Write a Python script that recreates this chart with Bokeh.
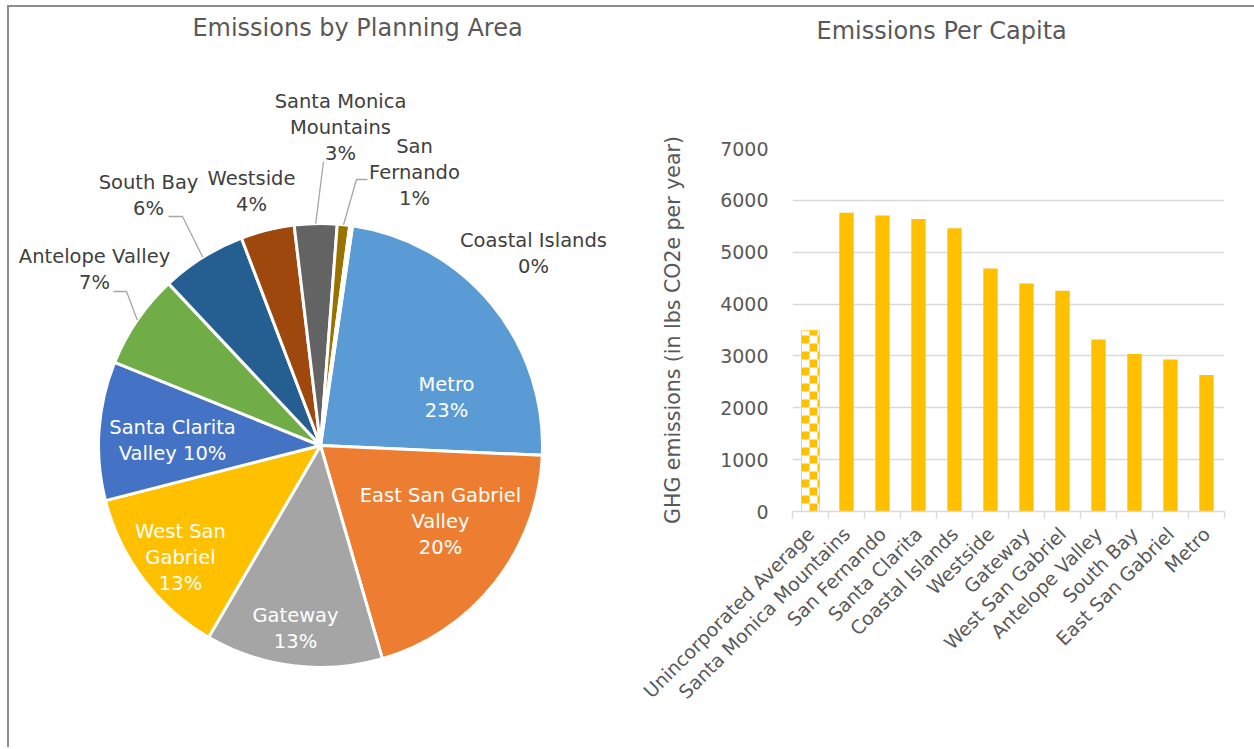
import math
from bokeh.plotting import figure
from bokeh.layouts import row
from bokeh.models import ColumnDataSource, Range1d, FixedTicker, Title
from bokeh.embed import file_html
from bokeh.resources import INLINE
from bokeh.core.properties import value

# ---------------- data ----------------
PIE_TITLE = "Emissions by Planning Area"
PIE_AREAS = ["Metro", "East San Gabriel Valley", "Gateway", "West San Gabriel",
             "Santa Clarita Valley", "Antelope Valley", "South Bay", "Westside",
             "Santa Monica Mountains", "San Fernando", "Coastal Islands"]
PIE_SHARES = [23.4, 19.8, 12.9, 12.6, 10.1, 6.9, 6.2, 3.9, 3.1, 0.9, 0.2]
PIE_LABEL_NAMES = ["Metro", "East San Gabriel\nValley", "Gateway", "West San\nGabriel",
                   "Santa Clarita\nValley", "Antelope Valley", "South Bay", "Westside",
                   "Santa Monica\nMountains", "San\nFernando", "Coastal Islands"]

BAR_TITLE = "Emissions Per Capita"
BAR_AREAS = ["Unincorporated Average", "Santa Monica Mountains", "San Fernando",
             "Santa Clarita", "Coastal Islands", "Westside", "Gateway",
             "West San Gabriel", "Antelope Valley", "South Bay", "East San Gabriel", "Metro"]
BAR_VALUES = [3490, 5760, 5710, 5640, 5460, 4685, 4395, 4255, 3315, 3035, 2930, 2630]
Y_TICKS = [0, 1000, 2000, 3000, 4000, 5000, 6000, 7000]
Y_LABEL = "GHG emissions (in lbs CO2e per year)"

# ---------------- style / layout ----------------
FONT = "DejaVu Sans"
PIE_COLORS = ["#5B9BD5", "#ED7D31", "#A5A5A5", "#FFC000", "#4472C4", "#70AD47",
              "#255E91", "#9E480E", "#636363", "#997300", "#264478"]
INSIDE = [True, True, True, True, True, False, False, False, False, False, False]
# label centre offsets from pie centre (pixels, screen-down positive)
LABEL_OFFSETS = [(126, -48), (120, 76), (-25, 183), (-140, 112), (-148, -5),
                 (-226, -176), (-172, -250), (-69, -254), (20, -318), (94, -273), (213, -192)]
# leader lines: (elbow offset, end offset) relative to label centre; None = no leader
LEADERS = [None, None, None, None, None,
           ((32, 22), (19, 22)), ((34, 21), (20, 21)), None,
           ((-17, 34), None), ((-58, 7), (-47, 7)), None]

WIN_H = 749
X0, Y0 = 9, 7
FIG_H = 740
PIE_W = 621
BAR_W = 624
CX, CY, R = 320, 445, 222
START_DEG = 8.3
LABEL_SIZE = "19.5px"
LINE_H = 1.13


def sy(y):
    return WIN_H - y


# ---------------- pie ----------------
pie = figure(width=PIE_W, height=FIG_H, x_range=Range1d(X0, X0 + PIE_W),
             y_range=Range1d(sy(Y0 + FIG_H), sy(Y0)), output_backend="svg",
             toolbar_location=None, min_border=0)
pie.frame_align = False
pie.axis.visible = False
pie.grid.visible = False
pie.outline_line_color = None
pie.background_fill_color = "white"

total = sum(PIE_SHARES)
starts, ends, mids = [], [], []
acc = START_DEG
for s in PIE_SHARES:
    a0 = acc
    a1 = acc + 360.0 * s / total
    starts.append(math.radians(90 - a1))
    ends.append(math.radians(90 - a0))
    mids.append((a0 + a1) / 2)
    acc = a1

src = ColumnDataSource(dict(x=[CX] * len(PIE_SHARES), y=[sy(CY)] * len(PIE_SHARES),
                            s=starts, e=ends, c=PIE_COLORS))
pie.wedge(x="x", y="y", radius=R, start_angle="s", end_angle="e", fill_color="c",
          line_color="white", line_width=3, source=src)

# leaders
for i, ld in enumerate(LEADERS):
    if ld is None:
        continue
    lx, ly = CX + LABEL_OFFSETS[i][0], CY + LABEL_OFFSETS[i][1]
    m = math.radians(mids[i])
    px, py = CX + R * math.sin(m), CY - R * math.cos(m)
    xs, ys = [px], [py]
    xs.append(lx + ld[0][0]); ys.append(ly + ld[0][1])
    if ld[1] is not None:
        xs.append(lx + ld[1][0]); ys.append(ly + ld[1][1])
    pie.line(xs, [sy(v) for v in ys], line_color="#A6A6A6", line_width=1.3)

in_x, in_y, in_t, out_x, out_y, out_t = [], [], [], [], [], []
for i, name in enumerate(PIE_LABEL_NAMES):
    pct = round(PIE_SHARES[i])
    if "Clarita" in name:
        txt = "%s %d%%" % (name, pct)
    else:
        txt = "%s\n%d%%" % (name, pct)
    x = CX + LABEL_OFFSETS[i][0]
    y = sy(CY + LABEL_OFFSETS[i][1])
    if INSIDE[i]:
        in_x.append(x); in_y.append(y); in_t.append(txt)
    else:
        out_x.append(x); out_y.append(y); out_t.append(txt)

pie.text(x=in_x, y=in_y, text=in_t, text_color="white", text_font=value(FONT),
         text_font_size=LABEL_SIZE, text_align="center",
         text_baseline="middle", text_line_height=LINE_H)
pie.text(x=out_x, y=out_y, text=out_t, text_color="#404040", text_font=value(FONT),
         text_font_size=LABEL_SIZE, text_align="center",
         text_baseline="middle", text_line_height=LINE_H)
pie.text(x=[357], y=[sy(27)], text=[PIE_TITLE], text_color="#595959",
         text_font=value(FONT), text_font_size="24px", text_align="center",
         text_baseline="middle")

# ---------------- bars ----------------
FRAME_L, FRAME_R = 792, 1224
FRAME_T, FRAME_B = 148, 511
n = len(BAR_VALUES)

bar = figure(width=BAR_W, height=FIG_H, x_range=Range1d(0, n), y_range=Range1d(0, Y_TICKS[-1]),
             output_backend="svg", toolbar_location=None, title=None,
             min_border_left=FRAME_L - (X0 + PIE_W), min_border_right=X0 + PIE_W + BAR_W - FRAME_R,
             min_border_top=FRAME_T - Y0, min_border_bottom=Y0 + FIG_H - FRAME_B)
bar.frame_align = False
bar.outline_line_color = None
bar.xgrid.visible = False
bar.ygrid.grid_line_color = "#D9D9D9"
bar.ygrid.grid_line_width = 1.5

# spacer (closest to the frame) then the visible title above it
bar.add_layout(Title(text=" ", text_font=FONT, text_font_size="24px",
                     text_color="white", standoff=69), "above")
bar.add_layout(Title(text=BAR_TITLE, align="left", offset=940 - 124 - FRAME_L,
                     text_font=FONT, text_font_size="24px", text_font_style="normal",
                     text_color="#595959", standoff=10), "above")

centers = [i + 0.5 for i in range(n)]
bar.vbar(x=centers[1:], top=BAR_VALUES[1:], width=0.4, fill_color="#FFC000", line_color=None)

# checkered first bar
px_per_unit_y = (FRAME_B - FRAME_T) / float(Y_TICKS[-1])
cw = 0.5
bx0 = centers[0] - cw / 2
bx1 = centers[0] + cw / 2
bar.vbar(x=[centers[0]], top=[BAR_VALUES[0]], width=cw, fill_color="white",
         line_color="#FFD966", line_width=1)
cell_x = 8.0 / ((FRAME_R - FRAME_L) / n)
cell_y = 8.0 / px_per_unit_y
ql, qr, qb, qt = [], [], [], []
j = 0
yb = 0.0
while yb < BAR_VALUES[0]:
    yt = min(yb + cell_y, BAR_VALUES[0])
    i = 0
    xl = bx0
    while xl < bx1 - 1e-9:
        xr = min(xl + cell_x, bx1)
        if (i + j) % 2 == 1:
            ql.append(xl); qr.append(xr); qb.append(yb); qt.append(yt)
        xl = xr
        i += 1
    yb = yt
    j += 1
bar.quad(left=ql, right=qr, bottom=qb, top=qt, fill_color="#FFC000", line_color=None)

# axes
bar.yaxis.ticker = FixedTicker(ticks=Y_TICKS)
bar.yaxis.axis_line_color = None
bar.yaxis.major_tick_line_color = None
bar.yaxis.minor_tick_line_color = None
bar.yaxis.major_label_text_font = FONT
bar.yaxis.major_label_text_font_size = "19px"
bar.yaxis.major_label_text_color = "#595959"
bar.yaxis.major_label_standoff = 18
bar.yaxis.axis_label = Y_LABEL
bar.yaxis.axis_label_text_font = FONT
bar.yaxis.axis_label_text_font_size = "20.5px"
bar.yaxis.axis_label_text_font_style = "normal"
bar.yaxis.axis_label_text_color = "#595959"
bar.yaxis.axis_label_standoff = 32

bar.xaxis.ticker = FixedTicker(ticks=centers, minor_ticks=list(range(n + 1)))
bar.xaxis.major_label_overrides = {c: name for c, name in zip(centers, BAR_AREAS)}
bar.xaxis.major_tick_line_color = None
bar.xaxis.major_tick_out = 0
bar.xaxis.minor_tick_line_color = "#D9D9D9"
bar.xaxis.minor_tick_line_width = 1.5
bar.xaxis.minor_tick_out = 7
bar.xaxis.minor_tick_in = 0
bar.xaxis.axis_line_color = "#D9D9D9"
bar.xaxis.axis_line_width = 1.5
bar.xaxis.major_label_orientation = math.pi / 4
bar.xaxis.major_label_text_font = FONT
bar.xaxis.major_label_text_font_size = "19px"
bar.xaxis.major_label_text_color = "#595959"
bar.xaxis.major_label_standoff = 12

p = row(pie, bar, margin=(5, 0, 0, 7),
        styles={"border-top": "2px solid #8C8C8C", "border-left": "2px solid #8C8C8C"})

open("out.html", "w").write(file_html(p, INLINE))
